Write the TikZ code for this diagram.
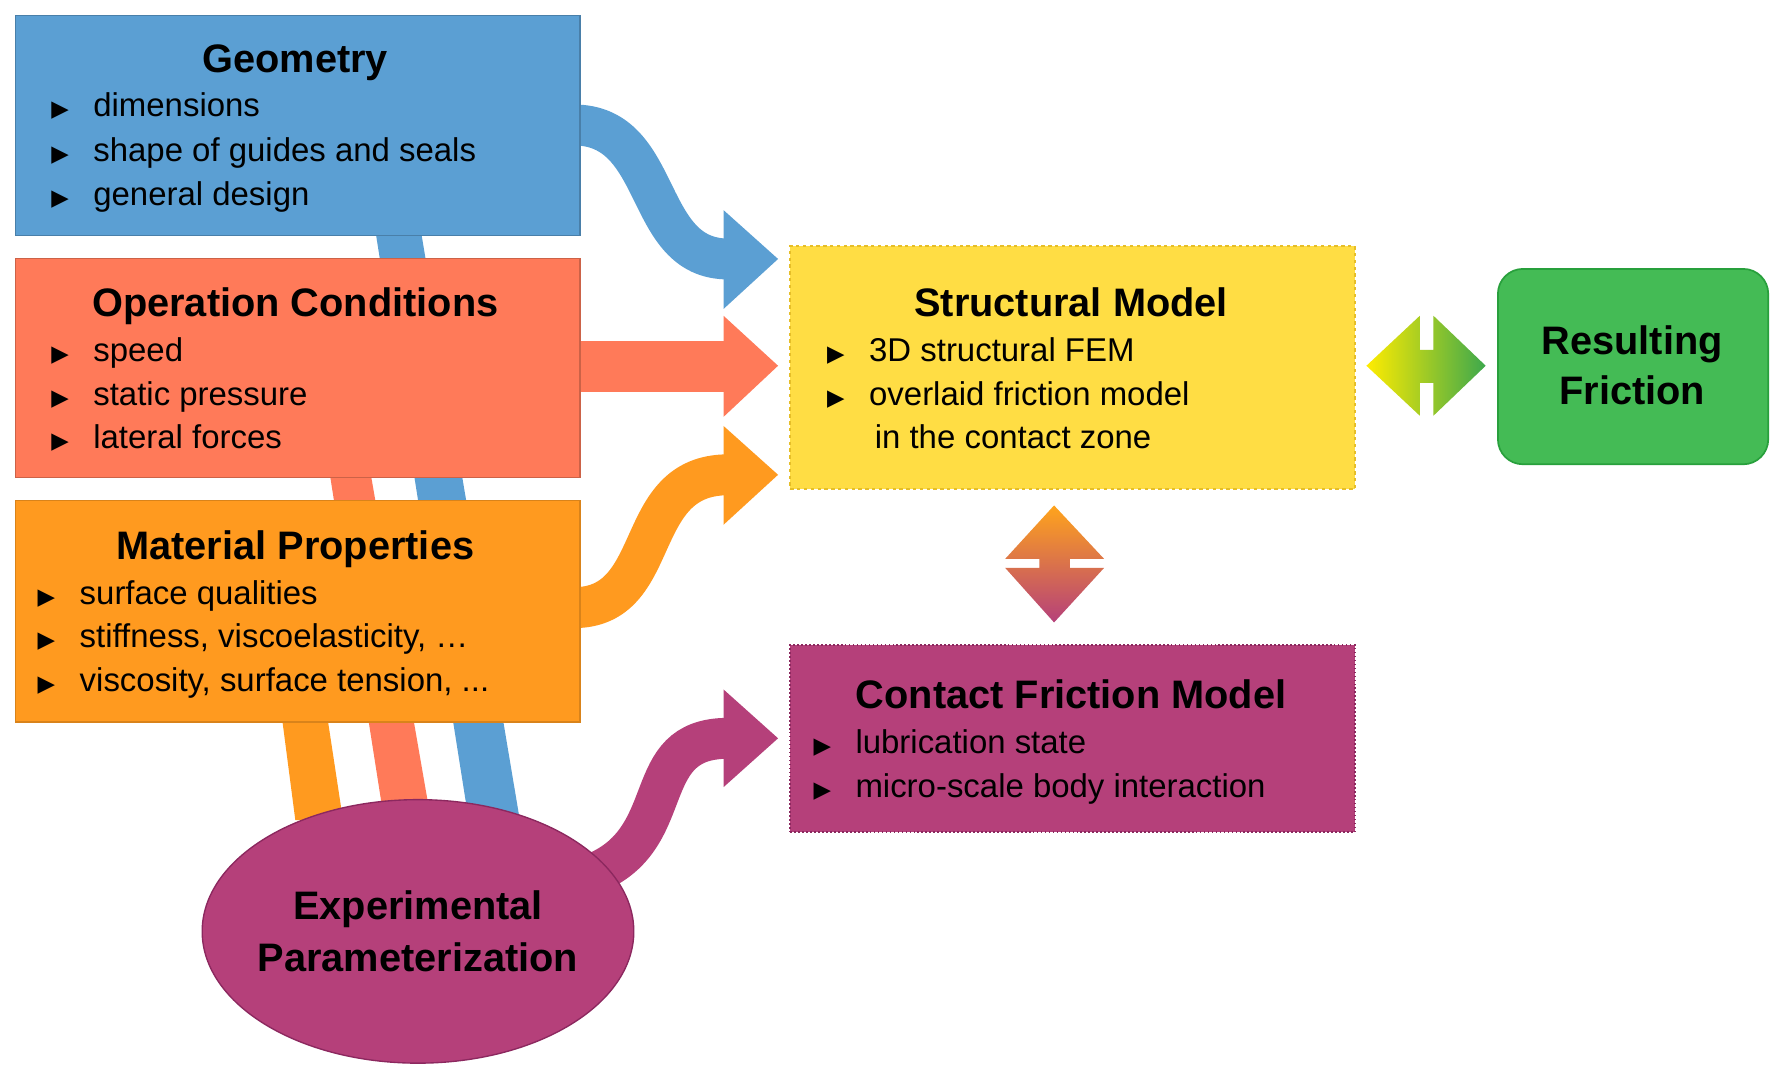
\documentclass[tikz,border=0pt]{standalone}
\usepackage{fontspec}
\setmainfont{Liberation Sans}
\newfontfamily\djv{DejaVu Sans}
\usetikzlibrary{shapes.geometric}
\definecolor{cblue}{RGB}{91,159,211}
\definecolor{csal}{RGB}{255,122,89}
\definecolor{corg}{RGB}{255,154,31}
\definecolor{cyel}{RGB}{255,221,68}
\definecolor{cyelb}{RGB}{230,190,40}
\definecolor{cgrn}{RGB}{68,187,85}
\definecolor{cgrnb}{RGB}{40,160,60}
\definecolor{cpur}{RGB}{181,64,122}
\definecolor{cpurb}{RGB}{140,40,95}
\newcommand{\bul}{{\djv\fontsize{20}{24}\selectfont ▶}}
\begin{document}
\begin{tikzpicture}[x=1pt,y=-1pt,
  ttl/.style={font=\fontsize{35}{40}\selectfont\bfseries,anchor=base},
  itm/.style={font=\fontsize{29}{34}\selectfont,anchor=base west,inner sep=0},
  mk/.style={anchor=base west,inner sep=0},
  box/.style={draw=#1,line width=1.2pt},
  band/.style={line width=36pt}]
\useasboundingbox[fill=white] (0,0) rectangle (1568,950);
% bands to ellipse (behind)
\fill[cblue] (330,200)--(370,200)--(457,718)--(412,718)--cycle;
\fill[csal] (290,415)--(326,415)--(377,708)--(336,708)--cycle;
\fill[corg] (248,630)--(288,630)--(302,722)--(260,722)--cycle;
% curved arrows
\draw[cblue,band] (505,110) .. controls (585,110) and (565,228) .. (641,228);
\fill[cblue] (637,185)--(685,228)--(637,272)--cycle;
\fill[csal] (505,300) rectangle (640,345);
\fill[csal] (637,278)--(685,322)--(637,367)--cycle;
\draw[corg,band] (505,535) .. controls (585,535) and (555,418) .. (641,418);
\fill[corg] (637,375)--(685,418)--(637,462)--cycle;
\draw[cpur,band] (520,770) .. controls (600,740) and (560,650) .. (641,650);
\fill[cpur] (637,607)--(685,650)--(637,693)--cycle;
% boxes
\node[box=cblue!80!black,fill=cblue,minimum width=497pt,minimum height=194pt,anchor=north west] (geo) at (13,13) {};
\node[box=csal!80!black,fill=csal,minimum width=497pt,minimum height=193pt,anchor=north west] (op) at (13,227) {};
\node[box=corg!85!black,fill=corg,minimum width=497pt,minimum height=195pt,anchor=north west] (mat) at (13,440) {};
\node[draw=cyelb,dashed,line width=1.5pt,fill=cyel,minimum width=497pt,minimum height=214pt,anchor=north west] (str) at (695,216) {};
\node[draw=cgrnb,line width=1.5pt,fill=cgrn,rounded corners=22pt,minimum width=238pt,minimum height=172pt,anchor=north west] (res) at (1318,236) {};
\node[draw=cpurb,dotted,line width=1.5pt,fill=cpur,minimum width=497pt,minimum height=165pt,anchor=north west] (con) at (695,567) {};
\node[ellipse,draw=cpurb,line width=1.2pt,fill=cpur,minimum width=380pt,minimum height=232pt] (exp) at (368,820) {};
% double arrows
\shade[left color=yellow!85!orange,right color=cgrn!90!black]
 (1203,322)--(1250,278)--(1250,308)--(1262,308)--(1262,278)--(1308,322)--(1262,366)--(1262,337)--(1250,337)--(1250,366)--cycle;
\shade[top color=corg!90!yellow,bottom color=cpur]
 (928,445)--(972,492)--(942,492)--(942,500)--(972,500)--(928,548)--(885,500)--(915,500)--(915,492)--(885,492)--cycle;
% texts
\node[ttl] (gt) at (260,64) {Geometry};
\node[mk] (g1m) at (45,103) {\bul}; \node[itm] (g1) at (82,103) {dimensions};
\node[mk] (g2m) at (45,142) {\bul}; \node[itm] (g2) at (82,142) {shape of guides and seals};
\node[mk] (g3m) at (45,181) {\bul}; \node[itm] (g3) at (82,181) {general design};
\node[ttl] (ot) at (260,279) {Operation Conditions};
\node[mk] (o1m) at (45,318) {\bul}; \node[itm] (o1) at (82,318) {speed};
\node[mk] (o2m) at (45,357) {\bul}; \node[itm] (o2) at (82,357) {static pressure};
\node[mk] (o3m) at (45,395) {\bul}; \node[itm] (o3) at (82,395) {lateral forces};
\node[ttl] (mt) at (260,493) {Material Properties};
\node[mk] (m1m) at (33,532) {\bul}; \node[itm] (m1) at (70,532) {surface qualities};
\node[mk] (m2m) at (33,570) {\bul}; \node[itm] (m2) at (70,570) {stiffness, viscoelasticity, …};
\node[mk] (m3m) at (33,609) {\bul}; \node[itm] (m3) at (70,609) {viscosity, surface tension, ...};
\node[ttl] (st) at (943,279) {Structural Model};
\node[mk] (s1m) at (728,318) {\bul}; \node[itm] (s1) at (765,318) {3D structural FEM};
\node[mk] (s2m) at (728,357) {\bul}; \node[itm] (s2) at (765,357) {overlaid friction model};
\node[itm] (s3) at (770,395) {in the contact zone};
\node[ttl] (ct) at (943,624) {Contact Friction Model};
\node[mk] (c1m) at (716,663) {\bul}; \node[itm] (c1) at (753,663) {lubrication state};
\node[mk] (c2m) at (716,702) {\bul}; \node[itm] (c2) at (753,702) {micro-scale body interaction};
\node[font=\fontsize{35}{44}\selectfont\bfseries,align=center] (rt) at (1437,322) {Resulting\\Friction};
\node[font=\fontsize{35}{46}\selectfont\bfseries,align=center] (et) at (368,820) {Experimental\\Parameterization};
\end{tikzpicture}
\end{document}
